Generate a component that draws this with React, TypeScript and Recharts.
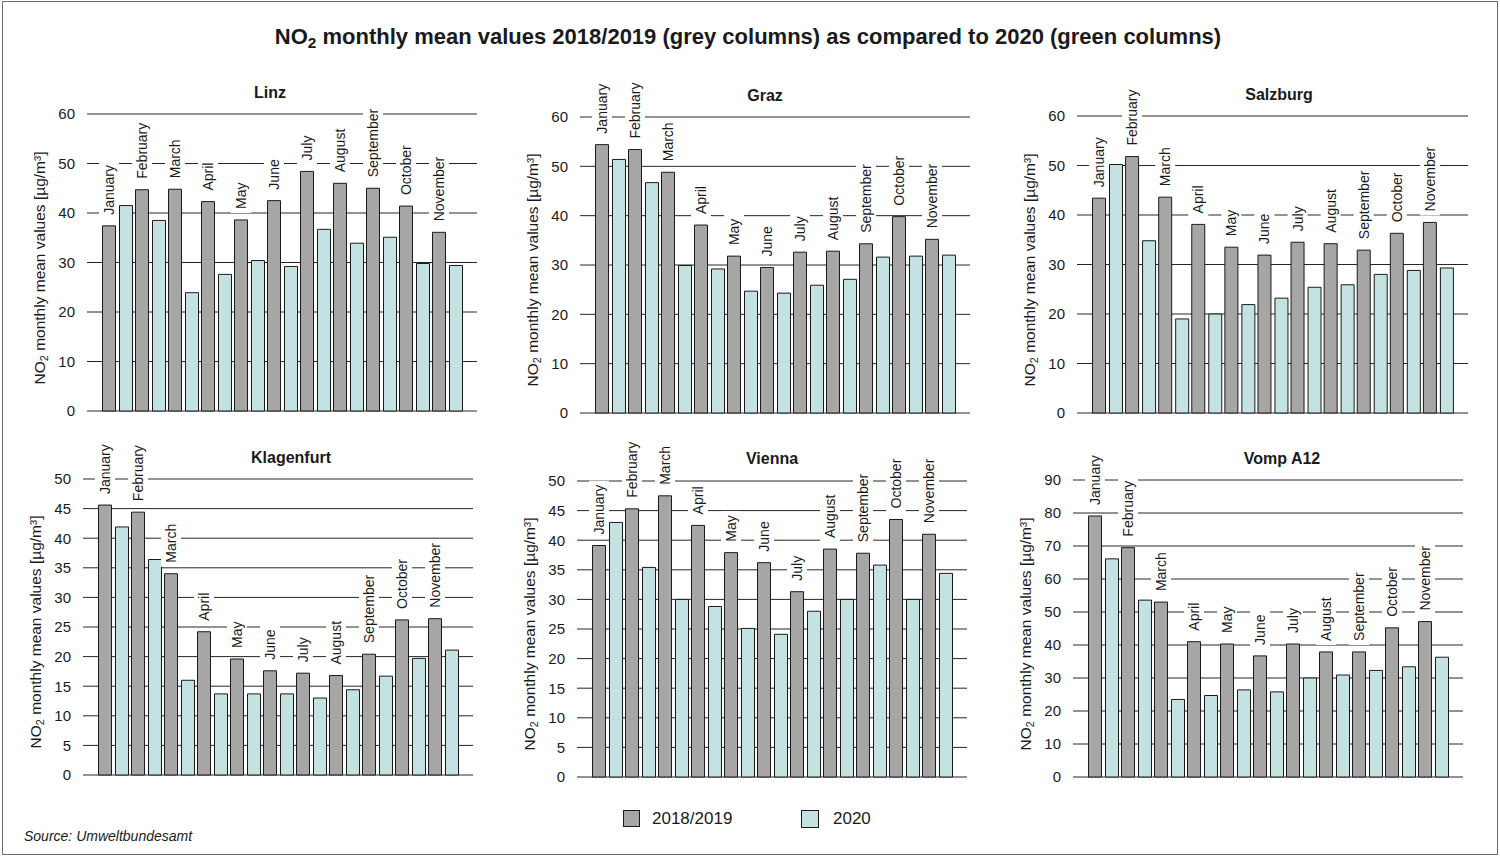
import React from "react";
import { BarChart, Bar, XAxis, YAxis, CartesianGrid, LabelList } from "recharts";

const months = [
  "January", "February", "March", "April", "May", "June",
  "July", "August", "September", "October", "November",
];

// NO2 monthly means, 2018/2019 (grey) and 2020 (green)
const linzPrev = [37.4, 44.7, 44.8, 42.3, 38.6, 42.5, 48.4, 46.0, 45.0, 41.4, 36.1];
const linz2020 = [41.5, 38.5, 23.9, 27.6, 30.4, 29.2, 36.7, 33.9, 35.1, 29.8, 29.4];

const grazPrev = [54.4, 53.4, 48.8, 38.1, 31.8, 29.5, 32.6, 32.8, 34.3, 39.8, 35.2];
const graz2020 = [51.4, 46.7, 29.9, 29.2, 24.7, 24.3, 25.9, 27.1, 31.6, 31.8, 32.0];

const salzburgPrev = [43.4, 51.8, 43.6, 38.1, 33.5, 31.9, 34.5, 34.2, 32.9, 36.3, 38.5];
const salzburg2020 = [50.2, 34.8, 19.0, 20.0, 21.9, 23.2, 25.4, 25.9, 28.0, 28.8, 29.3];

const klagenfurtPrev = [45.6, 44.4, 34.0, 24.2, 19.6, 17.6, 17.2, 16.8, 20.4, 26.2, 26.4];
const klagenfurt2020 = [41.9, 36.4, 16.0, 13.7, 13.7, 13.7, 13.0, 14.4, 16.7, 19.7, 21.1];

const viennaPrev = [39.1, 45.3, 47.5, 42.5, 37.9, 36.2, 31.3, 38.5, 37.8, 43.5, 41.0];
const vienna2020 = [43.0, 35.4, 30.0, 28.8, 25.1, 24.1, 28.0, 30.0, 35.8, 30.0, 34.4];

const vompPrev = [79.1, 69.5, 53.0, 41.0, 40.3, 36.7, 40.3, 37.9, 37.9, 45.2, 47.1];
const vomp2020 = [66.1, 53.6, 23.5, 24.7, 26.4, 25.8, 30.0, 30.9, 32.3, 33.4, 36.3];

const ticks60 = [0, 10, 20, 30, 40, 50, 60];
const ticks50 = [0, 5, 10, 15, 20, 25, 30, 35, 40, 45, 50];
const ticks90 = [0, 10, 20, 30, 40, 50, 60, 70, 80, 90];

const FONT = '"Liberation Sans", Arial, Helvetica, sans-serif';
const GREY = "#a6a6a6";
const GREEN = "#c4e2e2";
const INK = "#1a1a1a";

// Arial advance widths (per 1000 em), used to size the white box behind month labels
const charW: Record<string, number> = {
  J: 500, F: 611, M: 833, A: 667, S: 667, O: 778, N: 722,
  a: 556, b: 556, c: 500, e: 556, g: 556, h: 556, i: 222, l: 222, m: 833,
  n: 556, o: 556, p: 556, r: 333, s: 500, t: 278, u: 556, v: 500, y: 500,
};
const textLen = (s: string, size: number) =>
  (s.split("").reduce((acc, ch) => acc + (charW[ch] ?? 556), 0) * size) / 1000;

const MonthLabel = (props: any) => {
  const vb = props.viewBox || {};
  const x = Number(props.x ?? vb.x);
  const y = Number(props.y ?? vb.y);
  const w = Number(props.width ?? vb.width);
  const name = String(props.value);
  const len = textLen(name, 14);
  const cx = x + w / 2;
  const by = y - 11;
  return (
    <g>
      <rect x={cx - 10} y={by - len - 4} width={20} height={len + 8} fill="#fff" />
      <text
        x={cx}
        y={by}
        transform={`rotate(-90 ${cx} ${by})`}
        textAnchor="start"
        dominantBaseline="central"
        fontSize={14}
        fontFamily={FONT}
        fill={INK}
      >
        {name}
      </text>
    </g>
  );
};

type PanelDef = {
  name: string;
  prev: number[];
  curr: number[];
  ticks: number[];
  x: number;
  y: number;
  w: number;
  h: number;
  titleX: number;
  titleY: number;
};

const panels: PanelDef[] = [
  { name: "Linz", prev: linzPrev, curr: linz2020, ticks: ticks60, x: 87, y: 114, w: 390, h: 297, titleX: 270, titleY: 93 },
  { name: "Graz", prev: grazPrev, curr: graz2020, ticks: ticks60, x: 580, y: 117, w: 390, h: 296, titleX: 765, titleY: 96 },
  { name: "Salzburg", prev: salzburgPrev, curr: salzburg2020, ticks: ticks60, x: 1077, y: 116, w: 391, h: 297, titleX: 1279, titleY: 95 },
  { name: "Klagenfurt", prev: klagenfurtPrev, curr: klagenfurt2020, ticks: ticks50, x: 83, y: 479, w: 390, h: 296, titleX: 291, titleY: 458 },
  { name: "Vienna", prev: viennaPrev, curr: vienna2020, ticks: ticks50, x: 577, y: 481, w: 390, h: 296, titleX: 772, titleY: 459 },
  { name: "Vomp A12", prev: vompPrev, curr: vomp2020, ticks: ticks90, x: 1073, y: 480, w: 390, h: 297, titleX: 1282, titleY: 459 },
];

const ML = 80;
const MT = 70;
const MR = 10;
const MB = 10;

function Panel({ p }: { p: PanelDef }) {
  const data = months.map((m, i) => ({ month: m, prev: p.prev[i], curr: p.curr[i] }));
  const max = p.ticks[p.ticks.length - 1];
  return (
    <>
      <div style={{ position: "absolute", left: p.x - ML, top: p.y - MT }}>
        <BarChart
          width={p.w + ML + MR}
          height={p.h + MT + MB}
          data={data}
          margin={{ top: MT, right: MR, bottom: MB, left: 0 }}
          barSize={13}
          barGap={4}
        >
          <CartesianGrid vertical={false} stroke="#262626" strokeOpacity={1} />
          <XAxis dataKey="month" hide padding={{ left: 13.5, right: 13.5 }} />
          <YAxis
            width={ML}
            domain={[0, max]}
            ticks={p.ticks}
            interval={0}
            axisLine={false}
            tickLine={false}
            tickSize={6}
            tickMargin={6}
            tick={{ fill: INK, fontSize: 15, fontFamily: FONT }}
          />
          <Bar dataKey="prev" fill={GREY} stroke={INK} strokeWidth={1} isAnimationActive={false}>
            <LabelList dataKey="month" content={MonthLabel} />
          </Bar>
          <Bar dataKey="curr" fill={GREEN} stroke={INK} strokeWidth={1} isAnimationActive={false} />
        </BarChart>
      </div>
      <div
        style={{
          position: "absolute",
          left: p.titleX,
          top: p.titleY,
          transform: "translate(-50%, -50%)",
          fontWeight: "bold",
          fontSize: 16,
          whiteSpace: "nowrap",
          color: INK,
        }}
      >
        {p.name}
      </div>
      <div
        style={{
          position: "absolute",
          left: p.x - 47,
          top: p.y + p.h / 2 + 5,
          transform: "translate(-50%, -50%) rotate(-90deg)",
          fontSize: 15.5,
          whiteSpace: "nowrap",
          color: INK,
          lineHeight: "18px",
        }}
      >
        NO<sub style={{ fontSize: "0.7em", verticalAlign: "-0.25em", lineHeight: 0 }}>2</sub> monthly mean values [µg/m³]
      </div>
    </>
  );
}

export default function App() {
  return (
    <div
      style={{
        position: "absolute",
        left: 0,
        top: 0,
        width: 1500,
        height: 858,
        background: "#fff",
        fontFamily: FONT,
        overflow: "hidden",
      }}
    >
      <div
        style={{
          position: "absolute",
          left: 2,
          top: 1,
          width: 1494,
          height: 852,
          border: "1px solid #6e6e6e",
        }}
      />
      <div
        style={{
          position: "absolute",
          left: 748,
          top: 37,
          transform: "translate(-50%, -50%)",
          fontWeight: "bold",
          fontSize: 22,
          whiteSpace: "nowrap",
          color: INK,
        }}
      >
        NO<sub style={{ fontSize: "0.7em", verticalAlign: "-0.25em", lineHeight: 0 }}>2</sub> monthly mean values 2018/2019 (grey columns) as compared to 2020 (green columns)
      </div>

      {panels.map((p) => (
        <Panel key={p.name} p={p} />
      ))}

      {/* legend */}
      <div style={{ position: "absolute", left: 623, top: 810, width: 17, height: 17, background: GREY, border: `1px solid ${INK}`, boxSizing: "border-box" }} />
      <div style={{ position: "absolute", left: 652, top: 819, transform: "translateY(-50%)", fontSize: 17, color: INK, whiteSpace: "nowrap" }}>
        2018/2019
      </div>
      <div style={{ position: "absolute", left: 801, top: 810, width: 18, height: 18, background: GREEN, border: `1px solid ${INK}`, boxSizing: "border-box" }} />
      <div style={{ position: "absolute", left: 833, top: 819, transform: "translateY(-50%)", fontSize: 17, color: INK, whiteSpace: "nowrap" }}>
        2020
      </div>

      <div style={{ position: "absolute", left: 24, top: 836, transform: "translateY(-50%)", fontSize: 14, fontStyle: "italic", color: INK, whiteSpace: "nowrap" }}>
        Source: Umweltbundesamt
      </div>
    </div>
  );
}
